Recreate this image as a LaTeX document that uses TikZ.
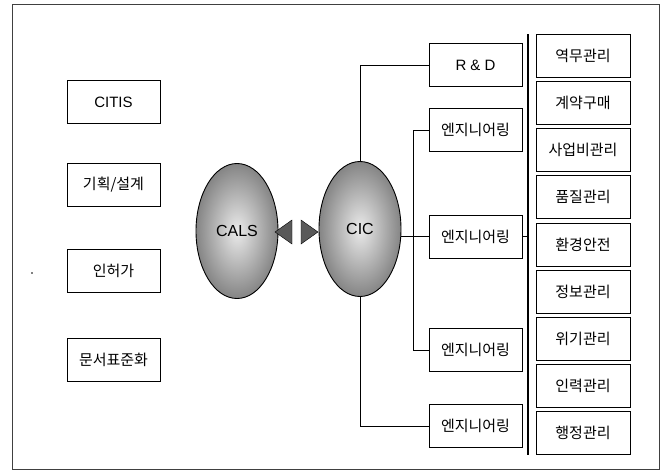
\documentclass[tikz,border=0pt]{standalone}
\usepackage{fontspec}
\setmainfont{Noto Sans CJK KR}
\newfontfamily\latfont{Liberation Sans}
\usetikzlibrary{shapes.geometric}
\begin{document}
\begin{tikzpicture}[x=1pt,y=-1pt,
  box/.style={draw=black, line width=0.8pt, minimum width=93pt, minimum height=43pt, inner sep=0pt, font=\fontsize{15}{17}\selectfont},
  lat/.style={font=\latfont\fontsize{15}{17}\selectfont},
  oval/.style={ellipse, draw=black, line width=0.9pt, minimum width=82pt, minimum height=135pt, inner sep=0pt, inner color=black!8, outer color=black!48, font=\latfont\fontsize{16}{18}\selectfont},
  conn/.style={line width=0.6pt},
  tri/.style={fill=black!65, draw=black, line width=0.4pt}]
\useasboundingbox (0,0) rectangle (662,472);
\draw[line width=0.6pt, black!75] (12,4) rectangle (659,469);
\fill (32,273) circle (0.9pt);
% left column
\node[box, lat] (citis) at (113.5,102) {CITIS};
\node[box] (plan) at (113.5,185) {기획/설계};
\node[box] (perm) at (113.5,271) {인허가};
\node[box] (doc) at (113.5,360) {문서표준화};
% ellipses
\node[oval] (cals) at (237,231) {CALS};
\node[oval] (cic) at (360,229) {CIC};
% triangles
\coordinate (tl) at (275,232);
\coordinate (tr) at (318,232);
\path[tri] (tl) -- ++(17,-12) -- ++(0,24) -- cycle;
\path[tri] (tr) -- ++(-17,-12) -- ++(0,24) -- cycle;
% middle column
\node[box, lat] (rd) at (475.5,65) {R \& D};
\node[box] (e1) at (475.5,130) {엔지니어링};
\node[box] (e2) at (475.5,236.5) {엔지니어링};
\node[box] (e3) at (475.5,350) {엔지니어링};
\node[box] (e4) at (475.5,426) {엔지니어링};
% right column
\foreach \t [count=\i] in {역무관리,계약구매,사업비관리,품질관리,환경안전,정보관리,위기관리,인력관리,행정관리}{
  \node[box, minimum width=94pt] (r\i) at (583,{56+47.1*(\i-1)}) {\t};
}
% bar
\coordinate (bartop) at (528,34);
\coordinate (barbot) at (528,455);
\draw[line width=1.6pt] (bartop) -- (barbot);
% connectors
\coordinate (trunk) at (413,0);
\draw[conn] (cic.north) |- (rd.west);
\draw[conn] (cic.south) |- (e4.west);
\draw[conn] (e2.west) -- (e2.west -| cic.east);
\draw[conn] (e1.west) -- (e1.west -| trunk) |- (e3.west);
\draw[conn] (e2.east) -- (e2.east -| bartop);
\end{tikzpicture}
\end{document}
